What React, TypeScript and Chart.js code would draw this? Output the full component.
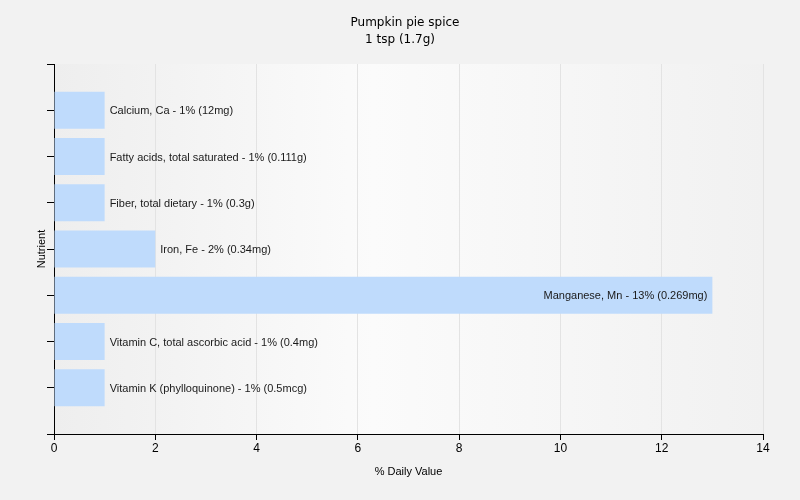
import React, { useEffect, useRef } from "react";
import { Chart, registerables } from "chart.js";

Chart.register(...registerables);

const titleLines = ["Pumpkin pie spice", "1 tsp (1.7g)"];
const nutrients = [
  "Calcium, Ca",
  "Fatty acids, total saturated",
  "Fiber, total dietary",
  "Iron, Fe",
  "Manganese, Mn",
  "Vitamin C, total ascorbic acid",
  "Vitamin K (phylloquinone)",
];
const dailyValues = [1, 1, 1, 2, 13, 1, 1];
const amounts = ["12mg", "0.111g", "0.3g", "0.34mg", "0.269mg", "0.4mg", "0.5mcg"];
const xTitle = "% Daily Value";
const yTitle = "Nutrient";
const xMin = 0;
const xMax = 14;
const xStep = 2;

const FONT = "'Liberation Sans', Arial, sans-serif";
const TITLE_FONT = "'DejaVu Sans', Verdana, sans-serif";

export default function App() {
  const ref = useRef<HTMLCanvasElement | null>(null);
  useEffect(() => {
    document.body.style.margin = "0";
    const canvas = ref.current!;
    const labels = ["", ...nutrients, ""];
    const values = [null, ...dailyValues, null];
    const texts = ["", ...nutrients.map((n, i) => `${n} - ${dailyValues[i]}% (${amounts[i]})`), ""];

    const bgPlugin = {
      id: "bg",
      beforeDraw(chart: any) {
        const { ctx, chartArea: a, width, height } = chart;
        ctx.save();
        ctx.fillStyle = "#f2f2f2";
        ctx.fillRect(0, 0, width, height);
        const g = ctx.createLinearGradient(a.left, 0, a.right, 0);
        g.addColorStop(0, "#eeeeee");
        g.addColorStop(0.45, "#fbfbfb");
        g.addColorStop(1, "#f1f1f1");
        ctx.fillStyle = g;
        ctx.fillRect(a.left, a.top, a.right - a.left, a.bottom - a.top);
        ctx.restore();
      },
      afterDraw(chart: any) {
        const { ctx, chartArea: a } = chart;
        ctx.save();
        ctx.fillStyle = "#000";
        ctx.textAlign = "center";
        ctx.textBaseline = "middle";
        ctx.font = `12px ${TITLE_FONT}`;
        ctx.fillText(titleLines[0], 405, 23);
        ctx.fillText(titleLines[1], 400, 40);
        ctx.font = `11px ${FONT}`;
        ctx.fillText(xTitle, (a.left + a.right) / 2, 472);
        ctx.save();
        ctx.translate(42, (a.top + a.bottom) / 2);
        ctx.rotate(-Math.PI / 2);
        ctx.fillText(yTitle, 0, 0);
        ctx.restore();
        // data labels
        const meta = chart.getDatasetMeta(0);
        ctx.font = `11px ${FONT}`;
        ctx.fillStyle = "#1a1a1a";
        meta.data.forEach((bar: any, i: number) => {
          const t = texts[i];
          if (!t || values[i] == null) return;
          const w = ctx.measureText(t).width;
          const end = bar.x;
          if (end + 5 + w < a.right) {
            ctx.textAlign = "left";
            ctx.fillText(t, end + 5, bar.y + 1);
          } else {
            ctx.textAlign = "right";
            ctx.fillText(t, end - 5, bar.y + 1);
          }
        });
        ctx.restore();
      },
    };

    const chart = new Chart(canvas, {
      type: "bar",
      data: {
        labels,
        datasets: [
          {
            data: values as any,
            backgroundColor: "#bfdbfc",
            borderWidth: 0,
            barPercentage: 0.8,
            categoryPercentage: 1,
          },
        ],
      },
      options: {
        indexAxis: "y",
        animation: false,
        responsive: false,
        devicePixelRatio: 1,
        layout: { padding: { top: 64, right: 37, left: 0, bottom: 0 } },
        plugins: { legend: { display: false }, title: { display: false }, tooltip: { enabled: false } },
        scales: {
          x: {
            type: "linear",
            min: xMin,
            max: xMax,
            ticks: { stepSize: xStep, color: "#000", font: { size: 12, family: FONT }, padding: 1 },
            grid: { color: "#e3e3e3", tickColor: "#000", tickLength: 6, lineWidth: 1 },
            border: { color: "#000", width: 1 },
            afterFit(s: any) {
              s.height = 66;
            },
          },
          y: {
            type: "category",
            offset: false,
            ticks: { display: false },
            grid: { offset: false, drawOnChartArea: false, tickColor: "#000", tickLength: 7 },
            border: { color: "#000", width: 1 },
            afterFit(s: any) {
              s.width = 54;
            },
          },
        },
      },
      plugins: [bgPlugin],
    });
    return () => chart.destroy();
  }, []);
  return (
    <div style={{ position: "absolute", left: 0, top: 0, width: 800, height: 500 }}>
      <canvas ref={ref} width={800} height={500} />
    </div>
  );
}
